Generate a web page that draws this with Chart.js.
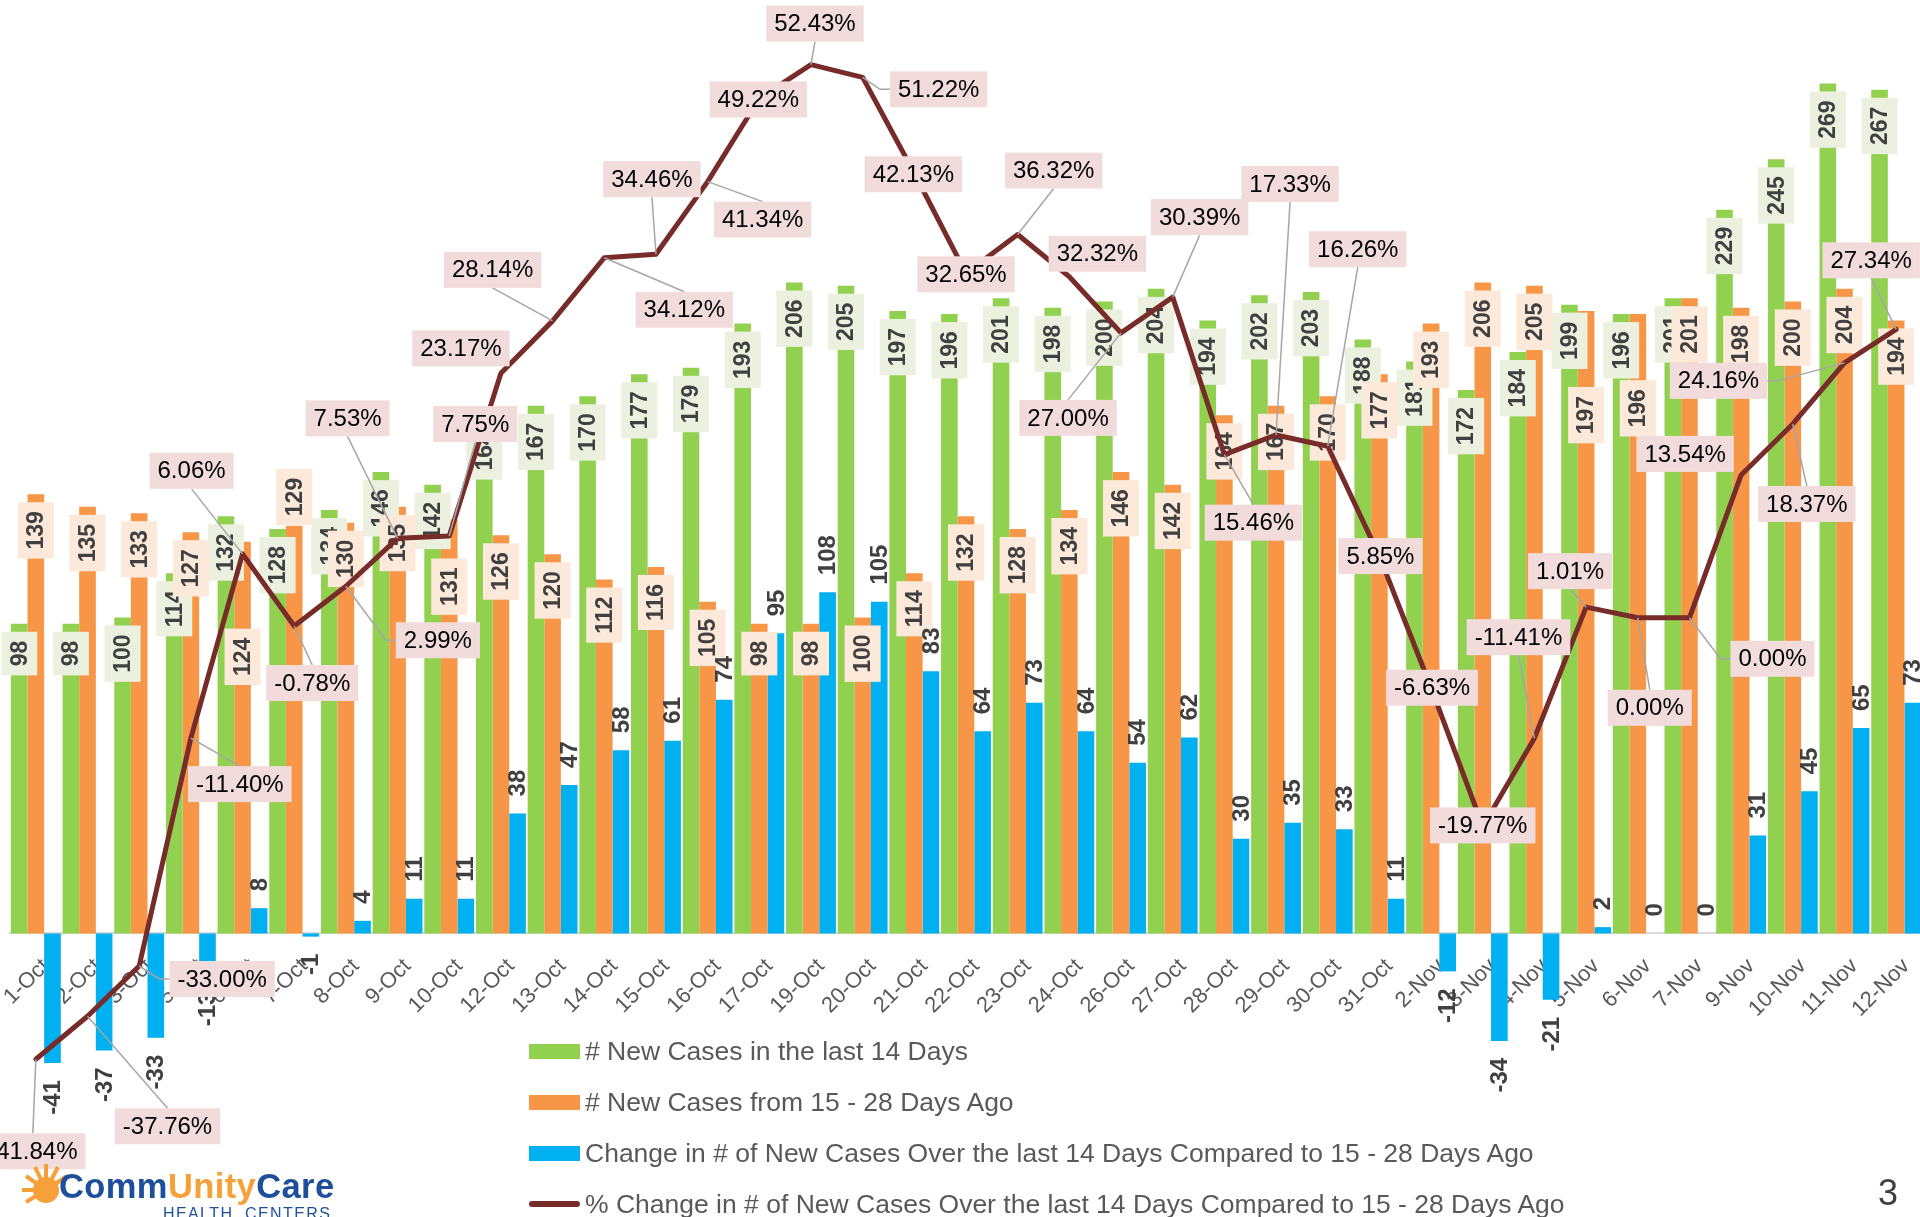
<!DOCTYPE html>
<html>
<head>
<meta charset="utf-8">
<title>New cases, last 14 days vs 15 - 28 days ago</title>
<script src="https://cdn.jsdelivr.net/npm/chart.js@4.4.1/dist/chart.umd.min.js"></script>
<style>
  html, body { margin: 0; padding: 0; background: #fff; overflow: hidden; }
  #wrap { position: relative; width: 1920px; height: 1217px; overflow: hidden; font-family: 'Liberation Sans', Arial, sans-serif; }
  #chart { position: absolute; left: 0; top: 0; }
  .lg-item { position: absolute; left: 529px; height: 30px; display: flex; align-items: center; white-space: nowrap; font-size: 26.5px; color: #595959; }
  .lg-swatch { width: 51px; height: 15px; margin-right: 5px; flex: none; }
  .lg-swatch.line { height: 6px; border-radius: 3px; }
  #logo { position: absolute; left: 59px; top: 1169px; font-size: 34.5px; font-weight: bold; line-height: 1; letter-spacing: 0.4px; color: #1d4f9a; }
  #logo .u { color: #f6a03a; }
  #logoSub { position: absolute; left: 163px; top: 1206px; font-size: 16px; line-height: 1; letter-spacing: 1.4px; color: #1d4f9a; }
  #sun { position: absolute; left: 18px; top: 1160px; }
  #pageNo { position: absolute; left: 1878px; top: 1175px; font-size: 36px; line-height: 1; color: #404040; }
</style>
</head>
<body>
<div id="wrap">
  <canvas id="chart" width="1930" height="1217"></canvas>
  <div id="legend"></div>
  <svg id="sun" width="60" height="50" viewBox="0 0 60 50">
    <g stroke="#f6a03a" stroke-width="4">
      <line x1="28" y1="30" x2="4" y2="30"/>
      <line x1="28" y1="30" x2="8" y2="16"/>
      <line x1="28" y1="30" x2="17" y2="7"/>
      <line x1="28" y1="30" x2="28" y2="4"/>
      <line x1="28" y1="30" x2="40" y2="7"/>
      <line x1="28" y1="30" x2="49" y2="16"/>
      <line x1="28" y1="30" x2="8" y2="42"/>
    </g>
    <circle cx="28" cy="30" r="13" fill="#f6a03a"/>
  </svg>
  <div id="logo">Comm<span class="u">Unity</span>Care</div>
  <div id="logoSub">HEALTH&nbsp;&nbsp;CENTERS</div>
  <div id="pageNo">3</div>
</div>
<script>
'use strict';

const categories = ['1-Oct', '2-Oct', '3-Oct', '5-Oct', '6-Oct', '7-Oct', '8-Oct', '9-Oct', '10-Oct', '12-Oct',
  '13-Oct', '14-Oct', '15-Oct', '16-Oct', '17-Oct', '19-Oct', '20-Oct', '21-Oct', '22-Oct', '23-Oct',
  '24-Oct', '26-Oct', '27-Oct', '28-Oct', '29-Oct', '30-Oct', '31-Oct', '2-Nov', '3-Nov', '4-Nov',
  '5-Nov', '6-Nov', '7-Nov', '9-Nov', '10-Nov', '11-Nov', '12-Nov'];
const last14 = [98, 98, 100, 114, 132, 128, 134, 146, 142, 164, 167, 170, 177, 179, 193, 206, 205, 197, 196, 201,
  198, 200, 204, 194, 202, 203, 188, 181, 172, 184, 199, 196, 201, 229, 245, 269, 267];
const prior14 = [139, 135, 133, 127, 124, 129, 130, 135, 131, 126, 120, 112, 116, 105, 98, 98, 100, 114, 132, 128,
  134, 146, 142, 164, 167, 170, 177, 193, 206, 205, 197, 196, 201, 198, 200, 204, 194];
const change = [-41, -37, -33, -13, 8, -1, 4, 11, 11, 38, 47, 58, 61, 74, 95, 108, 105, 83, 64, 73,
  64, 54, 62, 30, 35, 33, 11, -12, -34, -21, 2, 0, 0, 31, 45, 65, 73];
const pctChange = [-41.84, -37.76, -33.00, -11.40, 6.06, -0.78, 2.99, 7.53, 7.75, 23.17, 28.14, 34.12, 34.46, 41.34,
  49.22, 52.43, 51.22, 42.13, 32.65, 36.32, 32.32, 27.00, 30.39, 15.46, 17.33, 16.26, 5.85, -6.63, -19.77, -11.41,
  1.01, 0.00, 0.00, 13.54, 18.37, 24.16, 27.34];

const seriesNames = [
  '# New Cases in the last 14 Days',
  '# New Cases from 15 - 28 Days Ago',
  'Change in # of New Cases Over the last 14 Days Compared to 15 - 28 Days Ago',
  '% Change in # of New Cases Over the last 14 Days Compared to 15 - 28 Days Ago'
];

const GREEN = '#92D050', ORANGE = '#F79646', BLUE = '#00B0F0', LINE = '#772C2A';
const FONT = '"Liberation Sans", Arial, sans-serif';

// % labels were dragged around by hand on the slide: offset of the box centre from its point (px)
const pctLabelShift = [[-3, 92], [80, 110], [83, 13], [49, 46], [-51, -83], [18, 57], [92, 54], [-50, -120],
  [26, -112], [-40, -25], [-60, -51], [80, 52], [-4, -75], [55, 38], [-1, 1], [4, -41], [76, 12], [-1, 1],
  [0, 1], [36, -64], [28, -23], [-53, 85], [27, -80], [29, 68], [14, -251], [30, -197], [1, 0], [1, 0],
  [0, -1], [-16, -101], [-16, -36], [12, 90], [83, 41], [-56, -21], [14, 80], [-126, 18], [-25, -69]];
// a few orange labels were moved along their bar
const priorLabelShift = { 4: 79, 5: -65, 8: 31, 30: 68, 31: 58 };

function drawBarLabels(chart, di) {
  const ctx = chart.ctx;
  const meta = chart.getDatasetMeta(di);
  const values = chart.data.datasets[di].data;
  const boxed = di < 2;
  ctx.save();
  ctx.font = 'bold ' + (boxed ? 23 : 24) + 'px ' + FONT;
  ctx.textAlign = 'center';
  ctx.textBaseline = 'middle';
  meta.data.forEach((bar, i) => {
    const v = values[i];
    const txt = String(v);
    const len = ctx.measureText(txt).width + 18;
    let cy;
    if (boxed) {
      cy = bar.y + 8 + len / 2 + (di === 1 && priorLabelShift[i] ? priorLabelShift[i] : 0);
    } else if (v < 0) {
      cy = bar.y + 8 + len / 2;
    } else {
      cy = bar.y - 8 - len / 2;
    }
    ctx.save();
    ctx.translate(bar.x, cy);
    ctx.rotate(-Math.PI / 2);
    if (boxed) {
      ctx.fillStyle = di === 0 ? '#EBF1DE' : '#FDE9D9';
      ctx.fillRect(-len / 2, -18, len, 36);
    }
    ctx.fillStyle = '#404040';
    ctx.fillText(txt, 0, 1);
    ctx.restore();
  });
  ctx.restore();
}

function drawPctLabels(chart) {
  const ctx = chart.ctx;
  const meta = chart.getDatasetMeta(3);
  ctx.save();
  ctx.font = '24px ' + FONT;
  const boxes = meta.data.map((pt, i) => {
    const txt = pctChange[i].toFixed(2) + '%';
    const [dx, dy] = pctLabelShift[i];
    return { txt, w: ctx.measureText(txt).width + 16, h: 36, cx: pt.x + dx, cy: pt.y + dy, px: pt.x, py: pt.y };
  });
  ctx.strokeStyle = '#A6A6A6';
  ctx.lineWidth = 1.5;
  boxes.forEach(b => {
    const gx = Math.abs(b.px - b.cx) - b.w / 2;
    const gy = Math.abs(b.py - b.cy) - b.h / 2;
    if (Math.max(gx, gy) < 12) return;
    ctx.beginPath();
    if (gx > gy) {
      const sx = b.cx + Math.sign(b.px - b.cx) * b.w / 2;
      ctx.moveTo(sx, b.cy);
      ctx.lineTo(sx + Math.sign(b.px - b.cx) * 10, b.cy);
    } else {
      ctx.moveTo(b.cx, b.cy + Math.sign(b.py - b.cy) * b.h / 2);
    }
    ctx.lineTo(b.px, b.py);
    ctx.stroke();
  });
  ctx.textAlign = 'center';
  ctx.textBaseline = 'middle';
  boxes.forEach(b => {
    ctx.fillStyle = '#F2DCDB';
    ctx.fillRect(b.cx - b.w / 2, b.cy - b.h / 2, b.w, b.h);
    ctx.fillStyle = '#000';
    ctx.fillText(b.txt, b.cx, b.cy + 1);
  });
  ctx.restore();
}

const valueLabels = {
  id: 'valueLabels',
  beforeDatasetDraw(chart, args) {
    // bar labels sit under the % line
    if (args.meta.type !== 'line') return;
    [0, 1, 2].forEach(di => drawBarLabels(chart, di));
  },
  afterDatasetsDraw(chart) {
    drawPctLabels(chart);
  }
};

const chart = new Chart(document.getElementById('chart'), {
  type: 'bar',
  data: {
    labels: categories,
    datasets: [
      { label: seriesNames[0], data: last14, backgroundColor: GREEN, yAxisID: 'y', order: 1 },
      { label: seriesNames[1], data: prior14, backgroundColor: ORANGE, yAxisID: 'y', order: 1 },
      { label: seriesNames[2], data: change, backgroundColor: BLUE, yAxisID: 'y', order: 1 },
      { type: 'line', label: seriesNames[3], data: pctChange, borderColor: LINE, backgroundColor: LINE,
        borderWidth: 5, pointRadius: 0, tension: 0, borderJoinStyle: 'round', borderCapStyle: 'round',
        yAxisID: 'y2', order: 0 }
    ]
  },
  options: {
    responsive: false,
    animation: false,
    devicePixelRatio: 1,
    layout: { padding: { left: 10, right: 8, top: 0, bottom: 117 } },
    datasets: { bar: { categoryPercentage: 0.965, barPercentage: 1 } },
    plugins: { legend: { display: false }, tooltip: { enabled: false } },
    scales: {
      x: {
        position: { y: 0 },
        grid: { display: false, drawTicks: false },
        border: { color: '#D9D9D9', width: 2 },
        ticks: {
          autoSkip: false, minRotation: 45, maxRotation: 45, padding: 20, labelOffset: 10,
          color: '#595959', font: { family: FONT, size: 22 }
        },
        afterFit(s) {
          s.height = 0;
          s.paddingLeft = s.paddingRight = s.paddingTop = s.paddingBottom = 0;
        }
      },
      y: { display: false, min: -52.7, max: 295.4 },
      y2: { display: false, min: -45.7, max: 58.55 }
    }
  },
  plugins: [valueLabels]
});

// legend below the axis, one row per series
const legendEl = document.getElementById('legend');
const rowCentres = [1051, 1102, 1153, 1204];
chart.data.datasets.forEach((ds, i) => {
  const item = document.createElement('div');
  item.className = 'lg-item';
  item.style.top = (rowCentres[i] - 15) + 'px';
  const sw = document.createElement('span');
  sw.className = 'lg-swatch' + (ds.type === 'line' ? ' line' : '');
  sw.style.background = ds.type === 'line' ? ds.borderColor : ds.backgroundColor;
  item.appendChild(sw);
  item.appendChild(document.createTextNode(ds.label));
  legendEl.appendChild(item);
});
</script>
</body>
</html>
